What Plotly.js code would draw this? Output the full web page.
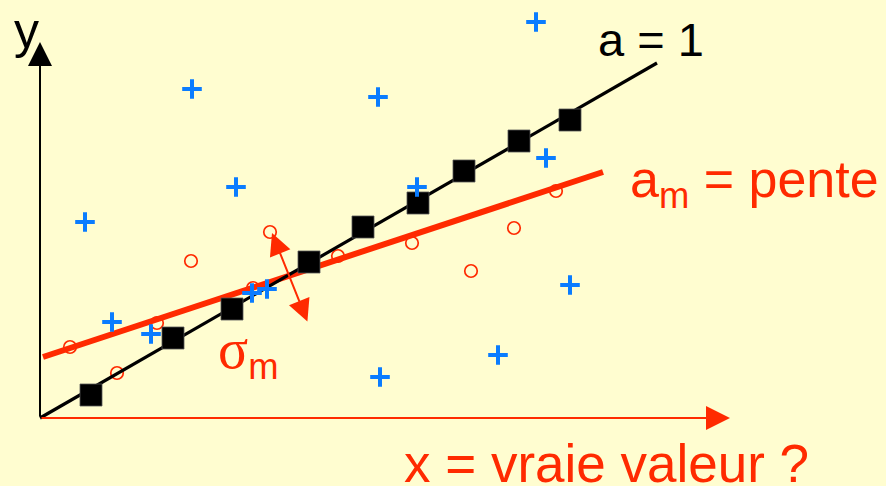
<!DOCTYPE html>
<html>
<head>
<meta charset="utf-8">
<script src="https://cdn.plot.ly/plotly-3.0.1.min.js"></script>
<style>html,body{margin:0;padding:0;background:#FFFDD0;}#chart{width:886px;height:486px;}</style>
</head>
<body>
<div id="chart"></div>
<script>
// Data (arbitrary diagram units; origin at the axes corner)
const squareX = [5.1, 13.3, 19.2, 26.9, 32.3, 37.8, 42.4, 47.9, 53.0];
const squareY = [2.3, 8.0, 10.9, 15.6, 19.1, 21.5, 24.7, 27.7, 29.8];

const circleX = [3.0, 7.7, 11.7, 15.1, 21.3, 23.0, 29.8, 37.2, 43.1, 47.4, 51.6];
const circleY = [7.1, 4.5, 9.5, 15.7, 13.0, 18.6, 16.2, 17.5, 14.7, 19.0, 22.7];

const plusX = [15.2, 49.6, 33.8, 19.6, 4.5, 37.7, 50.6, 53.0, 7.2, 11.1, 21.2, 22.7, 45.8, 34.0];
const plusY = [32.9, 39.6, 32.1, 23.1, 19.6, 23.1, 26.0, 13.3, 9.6, 8.4, 12.5, 12.9, 6.3, 4.1];

const trueLineX = [0, 61.7];
const trueLineY = [0, 35.5];

const fitLineX = [0.3, 56.3];
const fitLineY = [6.1, 24.6];

const sigmaArrowX = [26.8, 23.2];
const sigmaArrowY = [9.5, 18.5];

const axisEnd = {x: 69, y: 37.6};

const labels = {
  y: 'y',
  a1: 'a = 1',
  am: 'a<sub>m</sub> = pente',
  sigma: '<span style="font-family:\'Liberation Serif\', serif;font-size:56px">σ</span><sub>m</sub>',
  x: 'x = vraie valeur ?'
};

const RED = '#FF2A00';
const BLUE = '#0A7CFF';
const BG = '#FFFDD0';

const traces = [
  {x: circleX, y: circleY, mode: 'markers', type: 'scatter',
   marker: {symbol: 'circle-open', size: 12.5, color: RED, line: {width: 1.7, color: RED}}, hoverinfo: 'skip'},
  {x: fitLineX, y: fitLineY, mode: 'lines', type: 'scatter',
   line: {color: RED, width: 6}, hoverinfo: 'skip'},
  {x: trueLineX, y: trueLineY, mode: 'lines', type: 'scatter',
   line: {color: '#000000', width: 3.2}, hoverinfo: 'skip'},
  {x: squareX, y: squareY, mode: 'markers', type: 'scatter',
   marker: {symbol: 'square', size: 22, color: '#000000', line: {width: 0.8, color: '#555'}}, hoverinfo: 'skip'},
  {x: plusX, y: plusY, mode: 'markers', type: 'scatter',
   marker: {symbol: 'cross-thin-open', size: 14, color: BLUE, line: {width: 4, color: BLUE}}, hoverinfo: 'skip'}
];

function paperX(px) { return px / 886; }
function paperY(py) { return 1 - py / 486; }

const annotations = [
  // y axis arrow
  {x: 0, y: axisEnd.y, ax: 0, ay: 0, xref: 'x', yref: 'y', axref: 'x', ayref: 'y',
   text: '', showarrow: true, arrowhead: 2, arrowsize: 2.4, arrowwidth: 2, arrowcolor: '#000000', standoff: 0},
  // x axis arrow
  {x: axisEnd.x, y: 0, ax: 0, ay: 0, xref: 'x', yref: 'y', axref: 'x', ayref: 'y',
   text: '', showarrow: true, arrowhead: 2, arrowsize: 2.4, arrowwidth: 2, arrowcolor: RED, standoff: 0},
  // sigma double arrow
  {x: sigmaArrowX[1], y: sigmaArrowY[1], ax: sigmaArrowX[0], ay: sigmaArrowY[0],
   xref: 'x', yref: 'y', axref: 'x', ayref: 'y',
   text: '', showarrow: true, arrowside: 'end+start', arrowhead: 2, startarrowhead: 2,
   arrowsize: 2.2, startarrowsize: 2.2, arrowwidth: 2, arrowcolor: RED, standoff: 0, startstandoff: 0},
  // texts
  {xref: 'paper', yref: 'paper', x: paperX(12), y: paperY(31), xanchor: 'left', yanchor: 'middle',
   text: labels.y, showarrow: false, font: {family: 'Liberation Sans, Arial, sans-serif', size: 50, color: '#000000'}},
  {xref: 'paper', yref: 'paper', x: paperX(596), y: paperY(40), xanchor: 'left', yanchor: 'middle',
   text: labels.a1, showarrow: false, font: {family: 'Liberation Sans, Arial, sans-serif', size: 47, color: '#000000'}},
  {xref: 'paper', yref: 'paper', x: paperX(628), y: paperY(183), xanchor: 'left', yanchor: 'middle',
   text: labels.am, showarrow: false, font: {family: 'Liberation Sans, Arial, sans-serif', size: 52, color: RED}},
  {xref: 'paper', yref: 'paper', x: paperX(216), y: paperY(352), xanchor: 'left', yanchor: 'middle',
   text: labels.sigma, showarrow: false, font: {family: 'Liberation Sans, Arial, sans-serif', size: 52, color: RED}},
  {xref: 'paper', yref: 'paper', x: paperX(402), y: paperY(463), xanchor: 'left', yanchor: 'middle',
   text: labels.x, showarrow: false, font: {family: 'Liberation Sans, Arial, sans-serif', size: 53, color: RED}}
];

const layout = {
  width: 886, height: 486,
  margin: {l: 0, r: 0, t: 0, b: 0, pad: 0},
  paper_bgcolor: BG, plot_bgcolor: BG,
  showlegend: false,
  xaxis: {range: [-4, 84.6], visible: false, fixedrange: true},
  yaxis: {range: [-6.8, 41.8], visible: false, fixedrange: true},
  annotations: annotations
};

Plotly.newPlot('chart', traces, layout, {staticPlot: true, displayModeBar: false});
</script>
</body>
</html>
